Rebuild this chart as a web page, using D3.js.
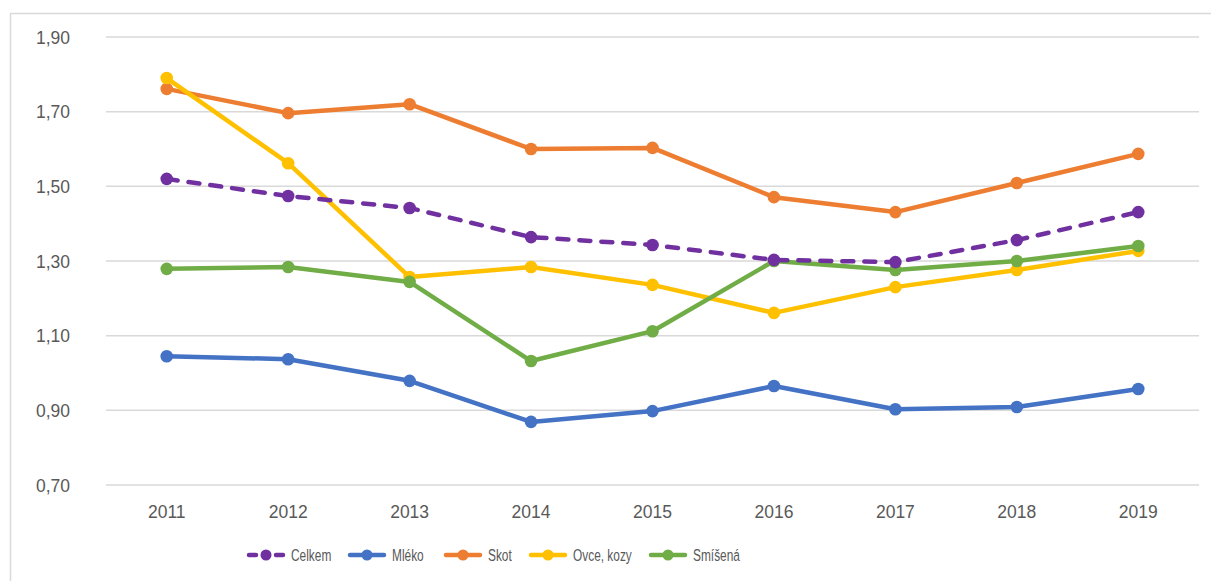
<!DOCTYPE html>
<meta charset="utf-8">
<script src="https://d3js.org/d3.v7.min.js"></script>
<style>
body { margin: 0; background: #fff; }
svg { display: block; font-family: "Liberation Sans", Arial, sans-serif; }
.axis path, .axis line { display: none; }
.axis text { fill: #595959; font-size: 17.5px; }
.grid line { stroke: #d9d9d9; stroke-width: 1.5px; }
.legend text { fill: #595959; font-size: 17px; }
</style>
<body></body>
<script>
var years = ['2011', '2012', '2013', '2014', '2015', '2016', '2017', '2018', '2019'];
var yTicks = [0.7, 0.9, 1.1, 1.3, 1.5, 1.7, 1.9];

var celkem  = [1.52, 1.474, 1.442, 1.364, 1.343, 1.303, 1.297, 1.356, 1.431];
var mleko   = [1.045, 1.037, 0.979, 0.869, 0.898, 0.965, 0.903, 0.909, 0.957];
var skot    = [1.761, 1.696, 1.72, 1.60, 1.603, 1.471, 1.431, 1.509, 1.587];
var ovce    = [1.79, 1.562, 1.257, 1.284, 1.236, 1.161, 1.230, 1.276, 1.327];
var smisena = [1.279, 1.284, 1.244, 1.032, 1.112, 1.30, 1.276, 1.30, 1.34];

var seriesNames = ['Celkem', 'Mléko', 'Skot', 'Ovce, kozy', 'Smíšená'];
var seriesColors = ['#7030a0', '#4472c4', '#ed7d31', '#ffc000', '#70ad47'];

var series = [
  {name: seriesNames[0], values: celkem, color: seriesColors[0], dashed: true},
  {name: seriesNames[1], values: mleko, color: seriesColors[1]},
  {name: seriesNames[2], values: skot, color: seriesColors[2]},
  {name: seriesNames[3], values: ovce, color: seriesColors[3]},
  {name: seriesNames[4], values: smisena, color: seriesColors[4]}
];

var W = 1211, H = 581;
var plot = {left: 106, right: 1199, top: 37, bottom: 485};

var svg = d3.select('body').append('svg')
  .attr('width', W)
  .attr('height', H);

// chart border (left + top visible)
svg.append('path')
  .attr('d', 'M10.5,' + H + 'V13.5H' + W)
  .attr('fill', 'none')
  .attr('stroke', '#d9d9d9')
  .attr('stroke-width', 1.5);

var x = d3.scaleBand().domain(years).range([plot.left, plot.right]);
var y = d3.scaleLinear().domain([0.7, 1.9]).range([plot.bottom, plot.top]);

// gridlines
svg.append('g')
  .attr('class', 'grid')
  .selectAll('line')
  .data(yTicks).enter().append('line')
  .attr('x1', plot.left).attr('x2', plot.right)
  .attr('y1', d => y(d)).attr('y2', d => y(d));

var fmt = d => d3.format('.2f')(d).replace('.', ',');

svg.append('g')
  .attr('class', 'y axis')
  .attr('transform', 'translate(' + (plot.left - 36) + ',0)')
  .call(d3.axisLeft(y).tickValues(yTicks).tickFormat(fmt).tickSize(0))
  .selectAll('text').attr('x', 0).attr('dy', '0.36em');

svg.append('g')
  .attr('class', 'x axis')
  .attr('transform', 'translate(0,' + (plot.bottom + 10) + ')')
  .call(d3.axisBottom(x).tickSize(0))
  .selectAll('text').attr('y', 16.5).attr('dy', '0.36em');

var line = d3.line()
  .x((d, i) => x(years[i]) + x.bandwidth() / 2)
  .y(d => y(d));

var sg = svg.selectAll('.series')
  .data(series.slice(1).concat(series.slice(0, 1)))
  .enter().append('g')
  .attr('class', 'series');

sg.append('path')
  .attr('d', d => line(d.values))
  .attr('fill', 'none')
  .attr('stroke', d => d.color)
  .attr('stroke-width', 4.5)
  .attr('stroke-linejoin', 'round')
  .attr('stroke-linecap', d => d.dashed ? 'round' : 'butt')
  .attr('stroke-dasharray', d => d.dashed ? '11 11' : null);

sg.selectAll('circle')
  .data(d => d.values.map(v => ({v: v, color: d.color})))
  .enter().append('circle')
  .attr('cx', (d, i) => x(years[i]) + x.bandwidth() / 2)
  .attr('cy', d => y(d.v))
  .attr('r', 6.3)
  .attr('fill', d => d.color);

// legend
var legendX = [247, 348, 444, 529, 649];
var lg = svg.append('g').attr('class', 'legend')
  .selectAll('g')
  .data(series).enter().append('g')
  .attr('transform', (d, i) => 'translate(' + legendX[i] + ',555)');

lg.append('line')
  .attr('x1', 2).attr('x2', 36)
  .attr('stroke', d => d.color)
  .attr('stroke-width', 4.5)
  .attr('stroke-linecap', 'round')
  .attr('stroke-dasharray', d => d.dashed ? '7 20 7' : null);

lg.append('circle')
  .attr('cx', 19)
  .attr('r', 5.5)
  .attr('fill', d => d.color);

// condensed legend text, like the original
lg.append('text')
  .attr('transform', 'translate(44,0) scale(0.7,1)')
  .attr('dy', '0.36em')
  .text(d => d.name);
</script>
